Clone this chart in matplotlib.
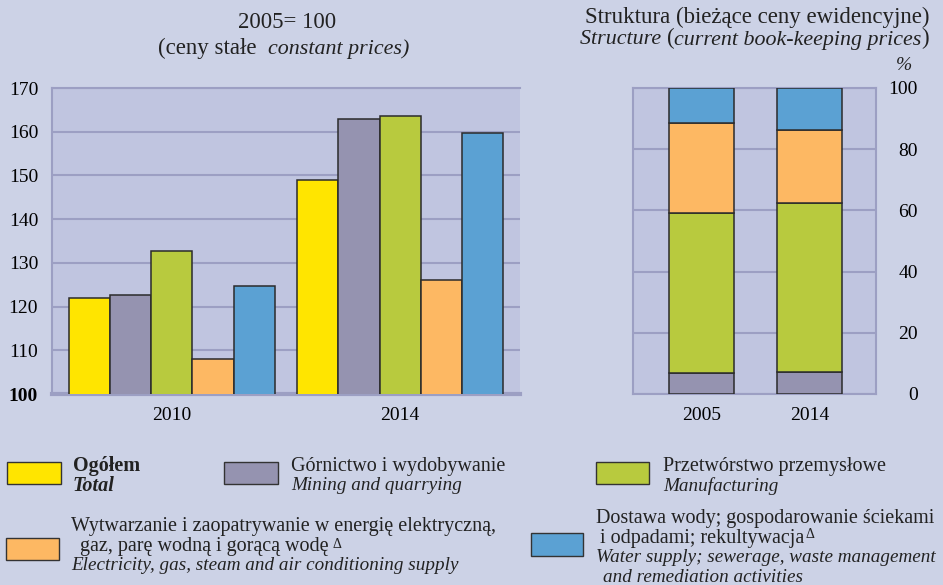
import matplotlib
matplotlib.use("Agg")
import matplotlib.pyplot as plt
import numpy as np

# dane
lata = ['2010', '2014']
ogolem = [122.0, 149.0]
gornictwo = [122.6, 162.8]
przetworstwo = [132.6, 163.7]
energia = [108.1, 126.0]
woda = [124.8, 159.6]

lata_str = ['2005', '2014']
str_gornictwo = [6.8, 7.3]
str_przetworstwo = [52.3, 55.0]
str_energia = [29.5, 24.1]
str_woda = [11.4, 13.6]

ticks_lewe = [100, 110, 120, 130, 140, 150, 160, 170]
ticks_prawe = [0, 20, 40, 60, 80, 100]

# kolory
tlo = '#ccd2e6'
tlo_wykresu = '#c0c5e0'
siatka = '#9c9fc3'
krawedz = '#2b2b2b'
kolory = ['#ffe500', '#9593b0', '#b8ca3e', '#fdb863', '#5ba1d3']

plt.rcParams['font.family'] = ['Liberation Serif', 'DejaVu Serif']
plt.rcParams['text.color'] = '#222222'

W, H = 943, 585
fig = plt.figure(figsize=(W / 100, H / 100), dpi=100, facecolor=tlo)


def fx(px):
    return px / W


def fy(py):
    return 1 - py / H


# --- wykres lewy: dynamika ---
ax = fig.add_axes([fx(52), fy(394), fx(520) - fx(52), fy(88) - fy(394)])
ax.set_facecolor(tlo_wykresu)
x = np.arange(len(lata))
szer = 0.18
serie = [ogolem, gornictwo, przetworstwo, energia, woda]
for i, (s, k) in enumerate(zip(serie, kolory)):
    ax.bar(x + (i - 2) * szer, s, width=szer, color=k, edgecolor=krawedz,
           linewidth=1.1, zorder=3)
ax.set_xlim(-0.526, 1.526)
ax.set_ylim(100, 170)
ax.set_yticks(ticks_lewe)
ax.set_yticklabels([str(t) for t in ticks_lewe], fontsize=14)
ax.get_yticklabels()[0].set_fontweight('bold')
ax.set_xticks(x)
ax.set_xticklabels(lata, fontsize=14)
ax.tick_params(axis='both', length=0)
ax.tick_params(axis='y', pad=10)
ax.tick_params(axis='x', pad=9)
ax.grid(axis='y', color=siatka, linewidth=1.5, zorder=1)
for sp in ax.spines.values():
    sp.set_color(siatka)
    sp.set_linewidth(1.5)
ax.spines['bottom'].set_linewidth(3)
ax.spines['right'].set_visible(False)

# --- wykres prawy: struktura ---
ax2 = fig.add_axes([fx(633), fy(394), fx(876) - fx(633), fy(88) - fy(394)])
ax2.set_facecolor(tlo_wykresu)
x2 = np.arange(len(lata_str))
dol = np.zeros(len(lata_str))
for s, k in zip([str_gornictwo, str_przetworstwo, str_energia, str_woda],
                kolory[1:]):
    ax2.bar(x2, s, bottom=dol, width=0.6, color=k, edgecolor=krawedz,
            linewidth=1.1, zorder=3)
    dol += np.array(s)
ax2.set_xlim(-0.634, 1.616)
ax2.set_ylim(0, 100)
ax2.yaxis.tick_right()
ax2.set_yticks(ticks_prawe)
ax2.set_yticklabels([str(t) for t in ticks_prawe], fontsize=14, ha='right')
ax2.set_xticks(x2)
ax2.set_xticklabels(lata_str, fontsize=14)
ax2.tick_params(axis='both', length=0)
ax2.tick_params(axis='y', pad=30)
ax2.tick_params(axis='x', pad=9)
ax2.grid(axis='y', color=siatka, linewidth=1.5, zorder=1)
for sp in ax2.spines.values():
    sp.set_color(siatka)
    sp.set_linewidth(1.5)

# --- tytuly ---
ft = 16.5
fti = 15.8
fig.text(fx(287), fy(22), '2005= 100', fontsize=ft, ha='center', va='center')
t1 = fig.text(fx(158), fy(48), '(ceny stałe  ', fontsize=ft, ha='left',
              va='center')
plt.annotate('constant prices)', xy=(1, 0), xycoords=t1, va='bottom',
             fontsize=fti, style='italic', annotation_clip=False)

fig.text(fx(757), fy(17), 'Struktura (bieżące ceny ewidencyjne)', fontsize=ft,
         ha='center', va='center')
czesci = [('Structure ', 'italic'), ('(', 'normal'),
          ('current book-keeping prices', 'italic'), (')', 'normal')]
poprz = fig.text(fx(580), fy(40), czesci[0][0], fontsize=fti,
                 style=czesci[0][1], ha='left', va='center')
for tekst, styl in czesci[1:]:
    poprz = plt.annotate(tekst, xy=(1, 0), xycoords=poprz, va='bottom',
                         fontsize=fti if styl == 'italic' else ft, style=styl,
                         annotation_clip=False)
fig.text(fx(904), fy(66), '%', fontsize=14, style='italic', ha='center',
         va='center')

# --- legenda ---
def prostokat(x0, y0, x1, y1, kolor):
    r = plt.Rectangle((fx(x0), fy(y1)), fx(x1) - fx(x0), fy(y0) - fy(y1),
                      transform=fig.transFigure, facecolor=kolor,
                      edgecolor='#333333', linewidth=1.0)
    fig.patches.append(r)


fs = 14.5
fsi = 13.8
prostokat(7, 462, 61, 484, kolory[0])
fig.text(fx(73), fy(466), 'Ogółem', fontsize=fs, fontweight='bold', va='center')
fig.text(fx(73), fy(486), 'Total', fontsize=fs, fontweight='bold',
         style='italic', va='center')

prostokat(224, 462, 278, 484, kolory[1])
fig.text(fx(291), fy(466), 'Górnictwo i wydobywanie', fontsize=fs, va='center')
fig.text(fx(291), fy(486), 'Mining and quarrying', fontsize=fsi,
         style='italic', va='center')

prostokat(596, 462, 649, 484, kolory[2])
fig.text(fx(663), fy(466), 'Przetwórstwo przemysłowe', fontsize=fs,
         va='center')
fig.text(fx(663), fy(486), 'Manufacturing', fontsize=fsi, style='italic',
         va='center')

prostokat(6, 538, 59, 560, kolory[3])
fig.text(fx(71), fy(527), 'Wytwarzanie i zaopatrywanie w energię elektryczną,',
         fontsize=fs, va='center')
g = fig.text(fx(80), fy(547), 'gaz, parę wodną i gorącą wodę', fontsize=fs,
             va='center')
plt.annotate('Δ', xy=(1, 1), xycoords=g, xytext=(3, 0),
             textcoords='offset points', va='top', fontsize=10,
             annotation_clip=False)
fig.text(fx(71), fy(566), 'Electricity, gas, steam and air conditioning supply',
         fontsize=fsi, style='italic', va='center')

prostokat(531, 533, 583, 556, kolory[4])
fig.text(fx(596), fy(519), 'Dostawa wody; gospodarowanie ściekami',
         fontsize=fs, va='center')
o = fig.text(fx(600), fy(538), 'i odpadami; rekultywacja', fontsize=fs,
             va='center')
plt.annotate('Δ', xy=(1, 1), xycoords=o, xytext=(1, 0),
             textcoords='offset points', va='top', fontsize=10,
             annotation_clip=False)
fig.text(fx(596), fy(558), 'Water supply; sewerage, waste management',
         fontsize=fsi, style='italic', va='center')
fig.text(fx(603), fy(577), 'and remediation activities', fontsize=fsi,
         style='italic', va='center')

fig.savefig('out.png', dpi=100, facecolor=tlo)
